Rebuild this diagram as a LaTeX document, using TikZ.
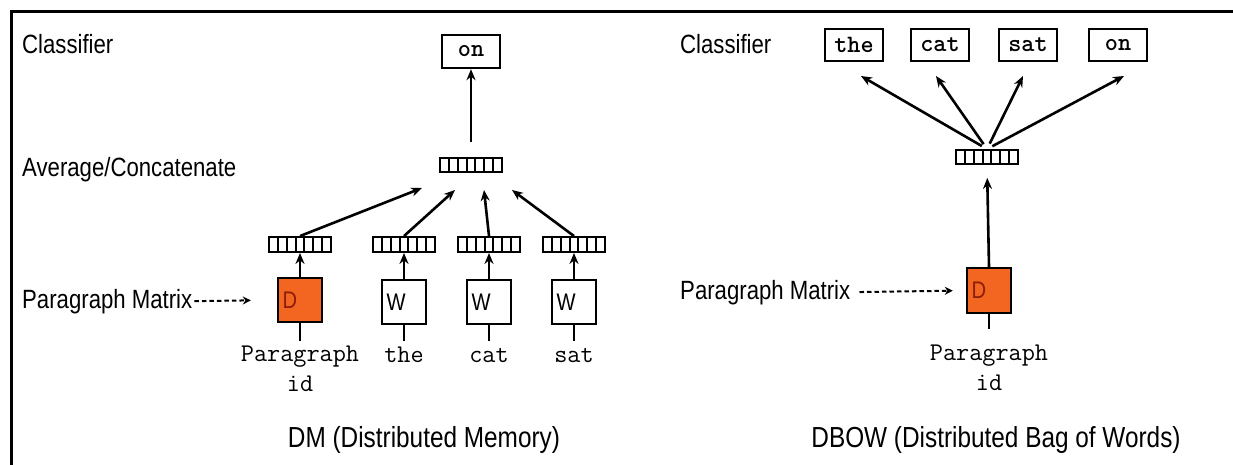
\documentclass[tikz,border=0pt]{standalone}
\usepackage{fontspec}
\usetikzlibrary{arrows.meta,calc}
\newfontfamily\narrowsf[FakeStretch=0.84]{Liberation Sans}
\definecolor{dorange}{RGB}{242,102,34}
\definecolor{dred}{RGB}{140,30,10}

\tikzset{
	lbl/.style={font=\narrowsf\fontsize{26.4}{30}\selectfont, inner sep=0, anchor=base west},
	ttl/.style={font=\narrowsf\fontsize{29}{32}\selectfont, inner sep=0, anchor=base},
	word/.style={font=\ttfamily\fontsize{25.5}{30}\selectfont, inner sep=0, align=center},
	outbox/.style={draw, line width=2.4pt, minimum width=58pt, minimum height=33pt, inner sep=0,
		font=\ttfamily\bfseries\fontsize{25}{28}\selectfont},
	vecbox/.style={draw, line width=1.9pt, minimum width=62pt, minimum height=14pt, inner sep=0,
		path picture={
			\foreach \k in {1,...,6} {
				\draw[line width=1.9pt] ($(path picture bounding box.south west)!\k/7!(path picture bounding box.south east)$)
					-- ($(path picture bounding box.north west)!\k/7!(path picture bounding box.north east)$);
			}
		}},
	embW/.style={draw, line width=2.4pt, minimum width=44pt, minimum height=44pt, inner sep=0,
		text width=35pt, align=left, font=\narrowsf\fontsize{24}{26}\selectfont},
	embD/.style={embW, fill=dorange, text=dred},
	arr/.style={-{Stealth[length=11pt,width=9pt]}, line width=2.6pt},
	dasharr/.style={-{Stealth[length=8pt,width=8pt]}, line width=2pt, dash pattern=on 4.5pt off 3pt},
	stem/.style={line width=2.6pt}
}

\begin{document}
\begin{tikzpicture}[x=1pt,y=-1pt]

	\useasboundingbox (0,0) rectangle (1233,465);

	% Frame.
	\draw[line width=3pt] (1233,11.5) -- (11,11.5) -- (11,465);

	% ---- DM (left) ----
	\node[lbl] (clsA) at (22,54) {Classifier};
	\node[lbl] (avgA) at (22,177) {Average/Concatenate};
	\node[lbl] (pmA) at (22,308) {Paragraph Matrix};

	\node[outbox] (onA) at (471,51.5) {on};
	\node[vecbox] (vA) at (471,165) {};

	% Paragraph column.
	\node[vecbox, minimum height=15pt] (vP) at (300,244.5) {};
	\node[embD] (dA) at (300,300) {D};
	\node[word, anchor=north] (pidA) at (300,346) {Paragraph\\id};
	\draw[arr] (dA.north) -- (vP.south);
	\draw[stem] (dA.south) -- ++(0,18);

	% Word columns.
	\foreach \i/\x/\w in {1/404/the, 2/489/cat, 3/574/sat} {
		\node[vecbox, minimum height=15pt] (v\i) at (\x,244.5) {};
		\node[embW] (W\i) at (\x,302) {W};
		\node[word, anchor=base] (wd\i) at (\x,362) {\w};
		\draw[arr] (W\i.north) -- (v\i.south);
		\draw[stem] (W\i.south) -- ++(0,16);
	}

	% Arrows into the average.
	\coordinate (tP) at (422,188);
	\coordinate (t1) at (455,190);
	\coordinate (t2) at (484,190);
	\coordinate (t3) at (512,190);
	\draw[arr] (vP.north) -- (tP);
	\foreach \i in {1,2,3} {
		\draw[arr] (v\i.north) -- (t\i);
	}
	\draw[arr, shorten <=15pt] (vA.north) -- (onA.south);
	\draw[dasharr, shorten <=2pt, shorten >=26pt] (pmA.east) -- (dA.west);

	\node[ttl] (ttlA) at (424,447) {DM (Distributed Memory)};

	% ---- DBOW (right) ----
	\node[lbl] (clsB) at (680,54) {Classifier};
	\node[lbl] (pmB) at (680,299) {Paragraph Matrix};

	\foreach \w/\x/\tx in {the/854/861, cat/940/936, sat/1028/1023, on/1118/1124} {
		\node[outbox, minimum height=32pt] (b\w) at (\x,45) {\w};
		\coordinate (t\w) at (\tx,76);
	}

	\node[vecbox] (vB) at (987,157) {};
	\foreach \w in {the,cat,sat,on} {
		\draw[arr, shorten <=6pt] (vB.north) -- (t\w);
	}

	\node[embD, minimum height=45pt] (dB) at (989,290.5) {D};
	\node[word, anchor=north] (pidB) at (989,345) {Paragraph\\id};
	\draw[arr, shorten >=13pt] (dB.north) -- (vB.south);
	\draw[stem] (dB.south) -- ++(0,15);
	\draw[dasharr, shorten <=9pt, shorten >=13pt] (pmB.east) -- (dB.west);

	\node[ttl] (ttlB) at (996,447) {DBOW (Distributed Bag of Words)};

\end{tikzpicture}
\end{document}
